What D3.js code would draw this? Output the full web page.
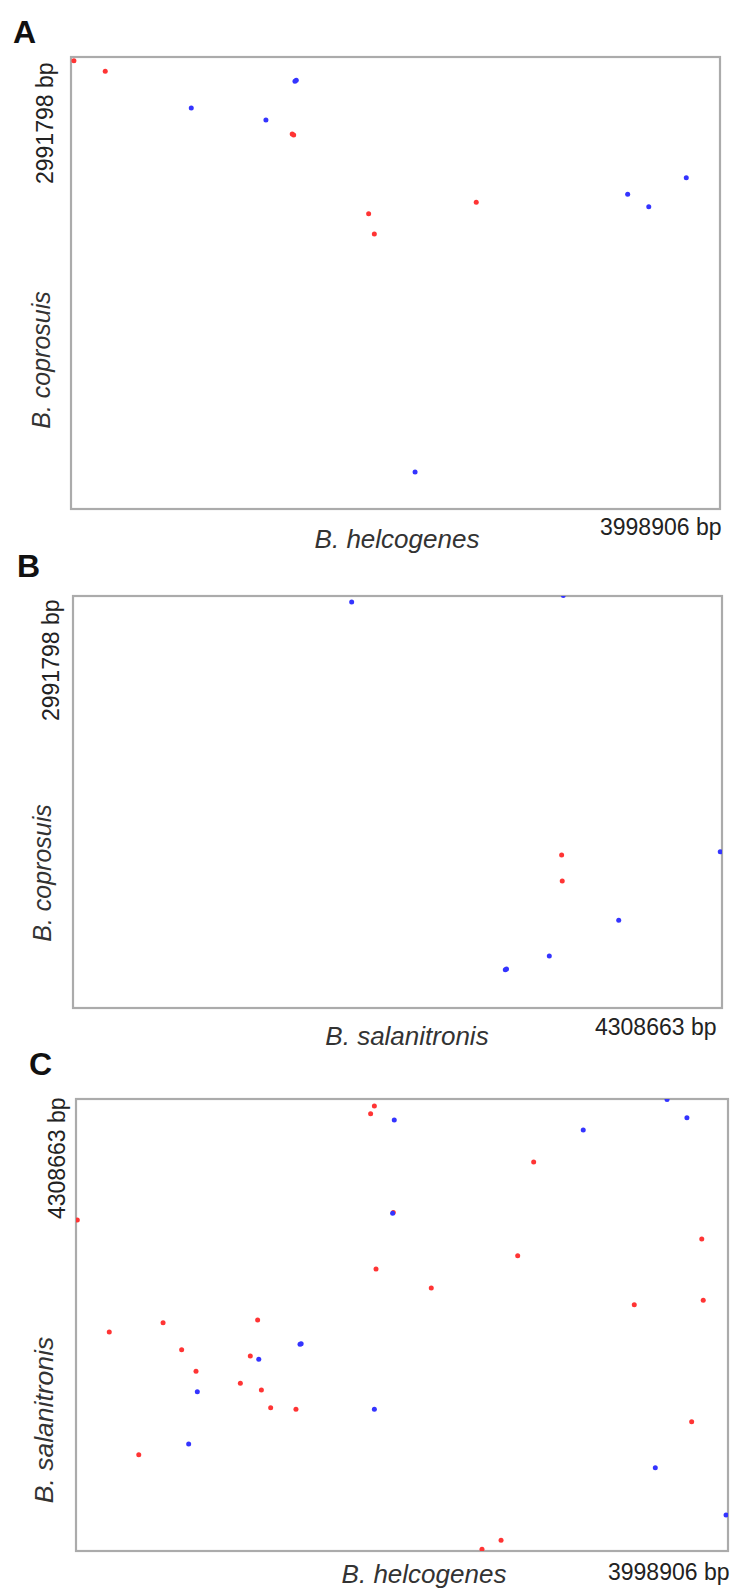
<!DOCTYPE html>
<html>
<head>
<meta charset="utf-8">
<script src="https://cdn.jsdelivr.net/npm/d3@7"></script>
<style>
  html, body { margin: 0; padding: 0; background: #ffffff; }
  svg { display: block; }
</style>
</head>
<body>
<svg id="chart" width="732" height="1589"></svg>
<script>
// ---------------- DATA ----------------
const panelLetters = ["A", "B", "C"];
const xTitles = ["B. helcogenes", "B. salanitronis", "B. helcogenes"];
const yTitles = ["B. coprosuis", "B. coprosuis", "B. salanitronis"];
const xGenomeSizes = [3998906, 4308663, 3998906];
const yGenomeSizes = [2991798, 2991798, 4308663];
const xTickLabels = ["3998906 bp", "4308663 bp", "3998906 bp"];
const yTickLabels = ["2991798 bp", "2991798 bp", "4308663 bp"];

// Panel A: B. helcogenes (x) vs B. coprosuis (y); [x bp, y bp]
const aDirect = [
  [18000, 2967000], [211000, 2897000], [1363000, 2482000], [1372000, 2475000],
  [1834000, 1955000], [1869000, 1820000], [2497000, 2030000]
];
const aInverted = [
  [1380000, 2831000], [1388000, 2838000], [741000, 2654000], [1201000, 2575000],
  [3430000, 2083000], [3560000, 2001000], [3791000, 2193000], [2120000, 245000]
];

// Panel B: B. salanitronis (x) vs B. coprosuis (y)
const bDirect = [
  [3244000, 1111000], [3248000, 922000]
];
const bInverted = [
  [1850000, 2948000], [3255000, 2995000], [4297000, 1135000], [3623000, 637000],
  [3162000, 378000], [2870000, 278000], [2878000, 283000]
];

// Panel C: B. helcogenes (x) vs B. salanitronis (y)
const cDirect = [
  [8000, 3155000], [204000, 2088000], [534000, 2176000], [1114000, 2202000],
  [1830000, 4242000], [1807000, 4169000], [2807000, 3708000], [1946000, 3226000],
  [3838000, 2974000], [2709000, 2815000], [1840000, 2688000], [2179000, 2507000],
  [3424000, 2348000], [3847000, 2390000], [648000, 1919000], [1069000, 1859000],
  [736000, 1713000], [1008000, 1599000], [1137000, 1535000], [1194000, 1366000],
  [1349000, 1351000], [385000, 918000], [3776000, 1233000], [2607000, 102000],
  [2490000, 16000]
];
const cInverted = [
  [1952000, 4108000], [3625000, 4305000], [3747000, 4130000], [3111000, 4013000],
  [1942000, 3219000], [1374000, 1970000], [1381000, 1976000], [1121000, 1827000],
  [744000, 1519000], [691000, 1020000], [1830000, 1351000], [3553000, 794000],
  [3987000, 343000]
];

const directSets = [aDirect, bDirect, cDirect];
const invertedSets = [aInverted, bInverted, cInverted];

// ---------------- LAYOUT / STYLE ----------------
const frames = [
  { l: 71, t: 57, r: 720, b: 509 },
  { l: 73, t: 596, r: 722, b: 1008 },
  { l: 76, t: 1099, r: 728, b: 1551 }
];
const letterPos = [[13, 43], [17, 577], [29, 1075]];
const yTickOffset = [[-18, 5], [-14, 3], [-11, -2]];   // relative to frame top-left
const xTickOffset = [[1, 26], [-6, 27], [1, 29]];      // relative to frame bottom-right
const xTitlePos = [[397, 548], [407, 1045], [424, 1583]];
const yTitlePos = [[50, 360], [51, 873], [53, 1420]];
const yTitleSize = [25, 25, 26.5];
const xTitleSize = [26, 26, 26];

const RED = "#ff3434";
const BLUE = "#3434ff";
const FONT = "'Liberation Sans', Arial, sans-serif";

const svg = d3.select("#chart");
const defs = svg.append("defs");

panelLetters.forEach((letter, i) => {
  const f = frames[i];
  const x = d3.scaleLinear().domain([0, xGenomeSizes[i]]).range([f.l, f.r]);
  const y = d3.scaleLinear().domain([0, yGenomeSizes[i]]).range([f.b, f.t]);

  defs.append("clipPath").attr("id", "clip" + i)
    .append("rect")
    .attr("x", f.l).attr("y", f.t)
    .attr("width", f.r - f.l).attr("height", f.b - f.t);

  const g = svg.append("g");

  // panel letter
  g.append("text")
    .attr("x", letterPos[i][0]).attr("y", letterPos[i][1])
    .attr("font-family", FONT).attr("font-weight", "bold")
    .attr("font-size", 32).attr("fill", "#111")
    .text(letter);

  // frame
  g.append("rect")
    .attr("x", f.l).attr("y", f.t)
    .attr("width", f.r - f.l).attr("height", f.b - f.t)
    .attr("fill", "none").attr("stroke", "#ababab").attr("stroke-width", 2.2);

  // x axis (single end tick label)
  const xAxis = d3.axisBottom(x)
    .tickValues([xGenomeSizes[i]])
    .tickFormat(() => xTickLabels[i])
    .tickSize(0);
  const gx = g.append("g").attr("transform", `translate(0,${f.b})`).call(xAxis);
  gx.select(".domain").remove();
  gx.selectAll("text")
    .attr("font-family", FONT).attr("font-size", 23).attr("fill", "#222")
    .attr("text-anchor", "end")
    .attr("x", xTickOffset[i][0]).attr("y", xTickOffset[i][1]).attr("dy", 0);

  // y axis (single end tick label, rotated)
  const yAxis = d3.axisLeft(y)
    .tickValues([yGenomeSizes[i]])
    .tickFormat(() => yTickLabels[i])
    .tickSize(0);
  const gy = g.append("g").attr("transform", `translate(${f.l},0)`).call(yAxis);
  gy.select(".domain").remove();
  gy.selectAll("text")
    .attr("font-family", FONT).attr("font-size", 23).attr("fill", "#222")
    .attr("text-anchor", "end")
    .attr("x", 0).attr("y", 0).attr("dy", 0)
    .attr("transform", `translate(${yTickOffset[i][0]},${yTickOffset[i][1]}) rotate(-90)`);

  // axis titles
  g.append("text")
    .attr("x", xTitlePos[i][0]).attr("y", xTitlePos[i][1])
    .attr("text-anchor", "middle")
    .attr("font-family", FONT).attr("font-style", "italic")
    .attr("font-size", xTitleSize[i]).attr("fill", "#333")
    .text(xTitles[i]);
  g.append("text")
    .attr("transform", `translate(${yTitlePos[i][0]},${yTitlePos[i][1]}) rotate(-90)`)
    .attr("text-anchor", "middle")
    .attr("font-family", FONT).attr("font-style", "italic")
    .attr("font-size", yTitleSize[i]).attr("fill", "#333")
    .text(yTitles[i]);

  // dots
  const dots = g.append("g").attr("clip-path", `url(#clip${i})`);
  dots.append("g").selectAll("circle").data(directSets[i]).join("circle")
    .attr("cx", d => x(d[0])).attr("cy", d => y(d[1]))
    .attr("r", 2.5).attr("fill", RED);
  dots.append("g").selectAll("circle").data(invertedSets[i]).join("circle")
    .attr("cx", d => x(d[0])).attr("cy", d => y(d[1]))
    .attr("r", 2.5).attr("fill", BLUE);
});
</script>
</body>
</html>
